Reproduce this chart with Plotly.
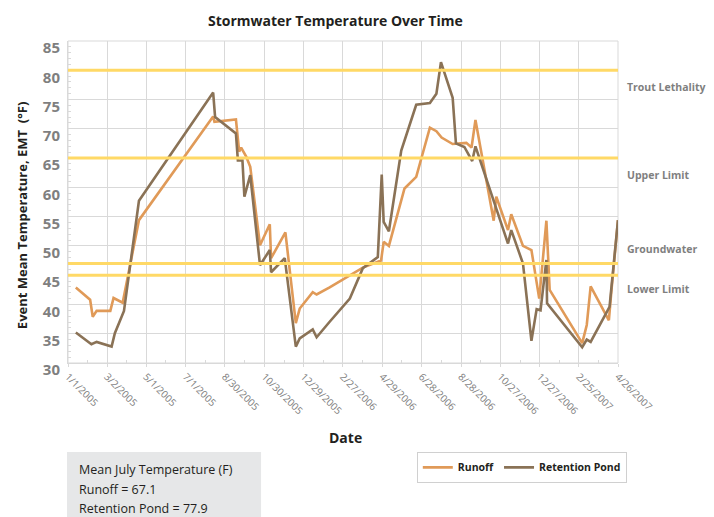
import plotly.graph_objects as go
import pandas as pd

runoff_dates = ["2005-01-13", "2005-02-04", "2005-02-08", "2005-02-14", "2005-03-07", "2005-03-12",
                "2005-03-26", "2005-04-20", "2005-08-12", "2005-08-14", "2005-09-16", "2005-09-21",
                "2005-09-24", "2005-10-02", "2005-10-08", "2005-10-23", "2005-11-07", "2005-11-09",
                "2005-12-01", "2005-12-17", "2005-12-23", "2006-01-12", "2006-01-18", "2006-02-07",
                "2006-03-30", "2006-04-27", "2006-05-01", "2006-05-09", "2006-06-02", "2006-06-20",
                "2006-07-11", "2006-07-21", "2006-07-29", "2006-08-15", "2006-09-05", "2006-09-13",
                "2006-09-19", "2006-10-17", "2006-10-21", "2006-11-08", "2006-11-13", "2006-12-01",
                "2006-12-14", "2006-12-26", "2007-01-06", "2007-01-11", "2007-03-02", "2007-03-09",
                "2007-03-15", "2007-04-12", "2007-04-16", "2007-04-26"]
runoff_vals = [42.9, 40.8, 37.9, 38.9, 38.9, 41.1,
               40.3, 54.4, 72.1, 71.2, 71.6, 66.1,
               66.8, 65.2, 63.5, 50.1, 53.7, 47.9,
               52.3, 36.8, 39.3, 42.1, 41.7, 42.9,
               46.3, 47.5, 50.7, 50.0, 59.8, 61.8,
               70.2, 69.6, 68.5, 67.4, 67.6, 66.8,
               71.5, 54.3, 58.4, 52.7, 55.4, 50.0,
               49.3, 41.0, 54.3, 42.5, 33.4, 36.5,
               43.1, 37.3, 42.5, 54.4]

pond_dates = ["2005-01-13", "2005-02-06", "2005-02-14", "2005-03-09", "2005-03-14", "2005-03-28",
              "2005-04-20", "2005-08-12", "2005-08-15", "2005-09-16", "2005-09-19", "2005-09-26",
              "2005-09-29", "2005-10-08", "2005-10-23", "2005-11-07", "2005-11-09", "2005-11-30",
              "2005-12-17", "2005-12-23", "2006-01-12", "2006-01-18", "2006-02-07", "2006-03-10",
              "2006-03-30", "2006-04-22", "2006-04-28", "2006-05-01", "2006-05-09", "2006-05-28",
              "2006-06-20", "2006-07-11", "2006-07-21", "2006-07-28", "2006-08-15", "2006-08-20",
              "2006-09-02", "2006-09-14", "2006-09-19", "2006-11-08", "2006-11-13", "2006-12-01",
              "2006-12-14", "2006-12-22", "2006-12-28", "2007-01-06", "2007-01-07", "2007-03-02",
              "2007-03-09", "2007-03-15", "2007-04-13", "2007-04-26"]
pond_vals = [35.2, 33.2, 33.6, 32.8, 35.1, 38.9,
             57.7, 76.2, 72.0, 69.2, 64.6, 64.6,
             58.4, 62.1, 46.7, 49.3, 45.5, 47.9,
             32.8, 34.2, 35.75, 34.4, 37.05, 41.0,
             46.2, 48.1, 62.2, 54.1, 52.5, 66.3,
             74.1, 74.4, 76.0, 81.4, 75.3, 67.5,
             66.9, 64.5, 67.0, 50.4, 52.7, 47.0,
             33.8, 39.2, 39.0, 47.6, 40.2, 32.7,
             34.0, 33.6, 39.6, 54.4]

tick_dates = ["2005-01-01", "2005-03-02", "2005-05-01", "2005-07-01", "2005-08-30", "2005-10-30",
              "2005-12-29", "2006-02-27", "2006-04-29", "2006-06-28", "2006-08-28", "2006-10-27",
              "2006-12-27", "2007-02-25", "2007-04-26"]
tick_labels = ["1/1/2005", "3/2/2005", "5/1/2005", "7/1/2005", "8/30/2005", "10/30/2005",
               "12/29/2005", "2/27/2006", "4/29/2006", "6/28/2006", "8/28/2006", "10/27/2006",
               "12/27/2006", "2/25/2007", "4/26/2007"]

limit_vals = [80, 65, 47, 45]
limit_labels = ["Trout Lethality", "Upper Limit", "Groundwater", "Lower Limit"]
limit_label_shift = [-17, -17, 14, -14]

info_lines = ["Mean July Temperature (F)", "Runoff = 67.1", "Retention Pond = 77.9"]

FONT = "Open Sans"
RUNOFF_C = "#E09A58"
POND_C = "#8A7256"
LIMIT_C = "#FFD966"
GRID_C = "#D9D9D9"

td = pd.to_datetime(tick_dates)
minor_vals = [(td[i] + (td[i + 1] - td[i]) / 2).strftime("%Y-%m-%d %H:%M") for i in range(len(td) - 1)]

fig = go.Figure()
fig.add_trace(go.Scatter(x=runoff_dates, y=runoff_vals, mode="lines", name="Runoff",
                         line=dict(color=RUNOFF_C, width=2.6)))
fig.add_trace(go.Scatter(x=pond_dates, y=pond_vals, mode="lines", name="Retention Pond",
                         line=dict(color=POND_C, width=2.6)))

for v, lab, sh in zip(limit_vals, limit_labels, limit_label_shift):
    fig.add_shape(type="line", xref="paper", x0=0, x1=1, yref="y", y0=v, y1=v,
                  line=dict(color=LIMIT_C, width=3), layer="above")
    fig.add_annotation(xref="paper", x=1.012, y=v, yref="y", yshift=sh, text=lab, showarrow=False,
                       xanchor="left", yanchor="middle",
                       font=dict(family=FONT, size=10.5, color="#7F7F7F", weight=700))

# info box
fig.add_shape(type="rect", xref="paper", yref="paper", x0=-0.0018, x1=0.351, y0=-0.518, y1=-0.2761,
              fillcolor="#E6E7E8", line=dict(width=0), layer="below")
for t, py in zip(info_lines, [470, 490, 509]):
    fig.add_annotation(xref="paper", yref="paper", x=(77 - 68) / 550, y=(363 - py) / 322.3,
                       text=t, showarrow=False, xanchor="left", yanchor="middle",
                       font=dict(family=FONT, size=12.5, color="#231F20"))

# titles
fig.add_annotation(xref="paper", yref="paper", x=(335 - 68) / 550, y=(363 - 20) / 322.3,
                   text="Stormwater Temperature Over Time", showarrow=False,
                   xanchor="center", yanchor="middle",
                   font=dict(family=FONT, size=14, color="#231F20", weight=700))
fig.add_annotation(xref="paper", yref="paper", x=(345 - 68) / 550, y=(363 - 438) / 322.3,
                   text="Date", showarrow=False, xanchor="center", yanchor="middle",
                   font=dict(family=FONT, size=14, color="#231F20", weight=700))
fig.add_annotation(xref="paper", yref="paper", x=(22 - 68) / 550, y=(363 - 216) / 322.3,
                   text="Event Mean Temperature, EMT  (°F)", showarrow=False, textangle=-90,
                   xanchor="center", yanchor="middle",
                   font=dict(family=FONT, size=13, color="#231F20", weight=700))

fig.update_layout(
    width=714, height=517,
    margin=dict(l=68, r=96, t=41, b=154, autoexpand=False),
    paper_bgcolor="white", plot_bgcolor="white",
    showlegend=True,
    legend=dict(orientation="h", xref="paper", yref="paper", x=1.016, y=-0.276,
                xanchor="right", yanchor="top", bgcolor="white", bordercolor="#D0D0D0",
                borderwidth=1, font=dict(family=FONT, size=10.5, color="#231F20", weight=700),
                itemwidth=30, tracegroupgap=0),
    xaxis=dict(type="date", range=[tick_dates[0], tick_dates[-1]], tickmode="array",
               tickvals=tick_dates, ticktext=tick_labels, tickangle=45,
               tickfont=dict(family=FONT, size=10, color="#808080"),
               showgrid=True, gridcolor=GRID_C, gridwidth=1, automargin=False,
               showline=True, linecolor=GRID_C, linewidth=1, zeroline=False,
               ticks="outside", ticklen=3, tickcolor=GRID_C,
               minor=dict(tickvals=minor_vals, ticks="inside", ticklen=3, tickcolor=GRID_C, showgrid=False),
               fixedrange=True),
    yaxis=dict(range=[30, 85], dtick=5, tick0=30, automargin=False,
               tickfont=dict(family=FONT, size=15, color="#7F7F7F", weight=700),
               showgrid=True, gridcolor=GRID_C, gridwidth=1,
               showline=True, linecolor=GRID_C, linewidth=1, zeroline=False,
               ticks="", ticklabelshift=7, ticklabelstandoff=4,
               minor=dict(dtick=1, ticks="inside", ticklen=3, tickcolor=GRID_C, showgrid=False),
               fixedrange=True),
)
fig.add_shape(type="rect", xref="paper", yref="paper", x0=0, x1=1, y0=0, y1=1,
              line=dict(color=GRID_C, width=1), layer="below")

fig.write_html("out.html", config={"displayModeBar": False},
               post_script="document.body.style.margin='0px';document.body.style.padding='0px';")
